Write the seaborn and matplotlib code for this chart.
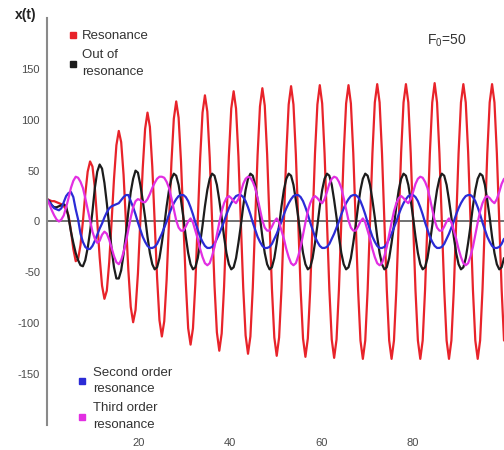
import numpy as np
import pandas as pd
import seaborn as sns
import matplotlib.pyplot as plt
from matplotlib.lines import Line2D

sns.set_theme(style="white")
plt.rcParams["font.family"] = ["Liberation Sans", "DejaVu Sans"]
plt.rcParams["mathtext.fontset"] = "custom"
plt.rcParams["mathtext.rm"] = "Liberation Sans"
plt.rcParams["mathtext.it"] = "Liberation Sans:italic"
plt.rcParams["axes.unicode_minus"] = False

# sampling step of the simulated signals (time units)
dt = np.pi / 6

resonance = [
    22, 21, 20, 20, 19, 18, 17, 15, 12, 6, -9, -27,
    -39, -37, -23, 0, 27, 49, 59, 54, 33, 0, -35, -63,
    -76, -68, -40, 0, 42, 75, 89, 78, 46, 0, -48, -84,
    -99, -87, -51, 0, 52, 91, 107, 93, 54, 0, -55, -97,
    -113, -98, -57, 0, 58, 101, 118, 102, 59, 0, -60, -105,
    -121, -105, -61, 0, 62, 107, 124, 108, 63, 0, -63, -109,
    -127, -110, -64, 0, 64, 111, 128, 111, 64, 0, -65, -112,
    -130, -113, -65, 0, 65, 113, 131, 114, 66, 0, -66, -114,
    -132, -114, -66, 0, 66, 115, 133, 115, 66, 0, -67, -115,
    -133, -115, -67, 0, 67, 115, 134, 116, 67, 0, -67, -116,
    -134, -116, -67, 0, 67, 116, 134, 116, 67, 0, -67, -117,
    -135, -117, -67, 0, 67, 117, 135, 117, 67, 0, -67, -117,
    -135, -117, -67, 0, 68, 117, 135, 117, 67, 0, -68, -117,
    -135, -117, -67, 0, 67, 117, 136, 117, 67, 0, -67, -117,
    -135, -117, -68, 0, 67, 117, 135, 117, 68, 0, -67, -117,
    -135, -117, -67, 0, 67, 117, 135, 117, 67, 0, -67, -117,
]

out_of_resonance = [
    22, 20, 16, 14, 14, 15, 16, 17, 15, 4, -10, -21, -31, -38, -43, -44,
    -38, -26, -10, 10, 33, 49, 56, 52, 38, 18, -5, -27, -45, -56, -56, -48, -32,
    -12, 10, 29, 42, 50, 48,
    36, 21, 4, -15, -31, -42, -47, -45, -36, -21, -4, 15, 31, 42, 47, 45,
    36, 21, 4, -15, -31, -42, -47, -45, -36, -21, -4, 15, 31, 42, 47, 45,
    36, 21, 4, -15, -31, -42, -47, -45, -36, -21, -4, 15, 31, 42, 47, 45,
    36, 21, 4, -15, -31, -42, -47, -45, -36, -21, -4, 15, 31, 42, 47, 45,
    36, 21, 4, -15, -31, -42, -47, -45, -36, -21, -4, 15, 31, 42, 47, 45,
    36, 21, 4, -15, -31, -42, -47, -45, -36, -21, -4, 15, 31, 42, 47, 45,
    36, 21, 4, -15, -31, -42, -47, -45, -36, -21, -4, 15, 31, 42, 47, 45,
    36, 21, 4, -15, -31, -42, -47, -45, -36, -21, -4, 15, 31, 42, 47, 45,
    36, 21, 4, -15, -31, -42, -47, -45, -36, -21, -4, 15, 31, 42, 47, 45,
    36, 21, 4, -15, -31, -42, -47, -45, -36,
]

second_order = [
    22, 19, 16, 13, 12, 11, 13, 19, 25, 28, 29, 24, 12, 2, -12, -20, -25, -27,
    -27, -24, -19, -13, -7, -2, 4, 9, 13, 15, 16, 17, 18, 21, 24, 26, 26,
    20, 14, 7, -1, -8, -15, -20, -24, -26, -26, -25, -22, -17, -12, -6, 0, 7, 13, 18, 22, 25, 26, 26, 24,
    20, 14, 7, -1, -8, -15, -20, -24, -26, -26, -25, -22, -17, -12, -6, 0, 7, 13, 18, 22, 25, 26, 26, 24,
    20, 14, 7, -1, -8, -15, -20, -24, -26, -26, -25, -22, -17, -12, -6, 0, 7, 13, 18, 22, 25, 26, 26, 24,
    20, 14, 7, -1, -8, -15, -20, -24, -26, -26, -25, -22, -17, -12, -6, 0, 7, 13, 18, 22, 25, 26, 26, 24,
    20, 14, 7, -1, -8, -15, -20, -24, -26, -26, -25, -22, -17, -12, -6, 0, 7, 13, 18, 22, 25, 26, 26, 24,
    20, 14, 7, -1, -8, -15, -20, -24, -26, -26, -25, -22, -17, -12, -6, 0, 7, 13, 18, 22, 25, 26, 26, 24,
    20, 14, 7, -1, -8, -15, -20, -24, -26, -26, -25, -22, -17,
]

third_order = [
    22, 17, 11, 6, 2, 0, 2, 6, 14, 23, 33, 40,
    44, 43, 39, 33, 23, 12, 1, -10, -17, -21, -19, -13, -10, -12, -18, -26, -34, -40,
    -42, -38, -30, -20, -8, 4, 14, 20, 22, 21, 19, 19, 22, 27, 33, 38, 42, 44,
    44, 43, 39, 33, 23, 12, 1, -6, -9, -9, -5, 0, 3, -1, -9, -17, -27, -35,
    -41, -43, -41, -34, -25, -13, -1, 10, 18, 23, 25, 23, 20, 18, 22, 29, 37, 42,
    44, 43, 39, 33, 23, 12, 1, -6, -9, -9, -5, 0, 3, -1, -9, -17, -27, -35,
    -41, -43, -41, -34, -25, -13, -1, 10, 18, 23, 25, 23, 20, 18, 22, 29, 37, 42,
    44, 43, 39, 33, 23, 12, 1, -6, -9, -9, -5, 0, 3, -1, -9, -17, -27, -35,
    -41, -43, -41, -34, -25, -13, -1, 10, 18, 23, 25, 23, 20, 18, 22, 29, 37, 42,
    44, 43, 39, 33, 23, 12, 1, -6, -9, -9, -5, 0, 3, -1, -9, -17, -27, -35,
    -41, -43, -41, -34, -25, -13, -1, 10, 18, 23, 25, 23, 20, 18, 22, 29, 37, 42,
]

series_names = ["Resonance", "Out of\nresonance", "Second order\nresonance", "Third order\nresonance"]
series_values = [resonance, out_of_resonance, second_order, third_order]
series_colors = ["#e8232a", "#1c1c1c", "#2b2bd6", "#e22fe2"]

y_ticks = [-150, -100, -50, 0, 50, 100, 150]
x_ticks = [20, 40, 60, 80]

frames = []
for name, vals in zip(series_names, series_values):
    frames.append(pd.DataFrame({"t": dt * np.arange(len(vals)), "x": vals, "series": name}))
df = pd.concat(frames, ignore_index=True)

fig = plt.figure(figsize=(5.04, 4.5), dpi=100)
ax = fig.add_axes([47 / 504, 25 / 450, 457 / 504, 407 / 450])

sns.lineplot(data=df, x="t", y="x", hue="series", hue_order=series_names,
             palette=dict(zip(series_names, series_colors)), sort=False,
             estimator=None, lw=1.6, legend=False, ax=ax)

ax.axhline(0, color="#4a4a4a", lw=1.1, zorder=1)
ax.set_xlim(0, 100)
ax.set_ylim(-200, 200)
ax.set_xticks(x_ticks)
ax.set_yticks(y_ticks)
ax.set_xlabel("")
ax.set_ylabel("")
for side in ["top", "right", "bottom"]:
    ax.spines[side].set_visible(False)
ax.spines["left"].set_color("#8a8a8a")
ax.spines["left"].set_linewidth(1.5)
ax.tick_params(axis="both", length=0, labelsize=8, labelcolor="#4a4a4a")
ax.tick_params(axis="x", pad=9)
ax.tick_params(axis="y", pad=5)

fig.text(26 / 504, 1 - 15 / 450, "x(t)", ha="center", va="center",
         fontsize=10, fontweight="bold", color="#222222")
fig.text(427 / 504, 1 - 41 / 450, r"F$_0$=50", ha="left", va="center",
         fontsize=10, color="#333333")


def square(color):
    return Line2D([], [], marker="s", ls="", color=color, markersize=4)


leg1 = ax.legend([square(c) for c in series_colors[:2]], series_names[:2],
                 loc="upper left", bbox_to_anchor=(21 / 457, 1 - 12 / 407),
                 frameon=False, fontsize=9.5, handlelength=0.8,
                 handletextpad=0.25, labelspacing=0.5, borderaxespad=0,
                 borderpad=0)
for txt in leg1.get_texts():
    txt.set_linespacing(1.62)
    txt.set_color("#333333")
ax.add_artist(leg1)

leg2 = ax.legend([square(c) for c in series_colors[2:]], series_names[2:],
                 loc="lower left", bbox_to_anchor=(30 / 457, 0 - 6 / 407),
                 frameon=False, fontsize=9.5, handlelength=0.8,
                 handletextpad=0.4, labelspacing=0.53, borderaxespad=0,
                 borderpad=0)
for txt in leg2.get_texts():
    txt.set_linespacing(1.52)
    txt.set_color("#333333")

fig.savefig("out.png", dpi=100)
